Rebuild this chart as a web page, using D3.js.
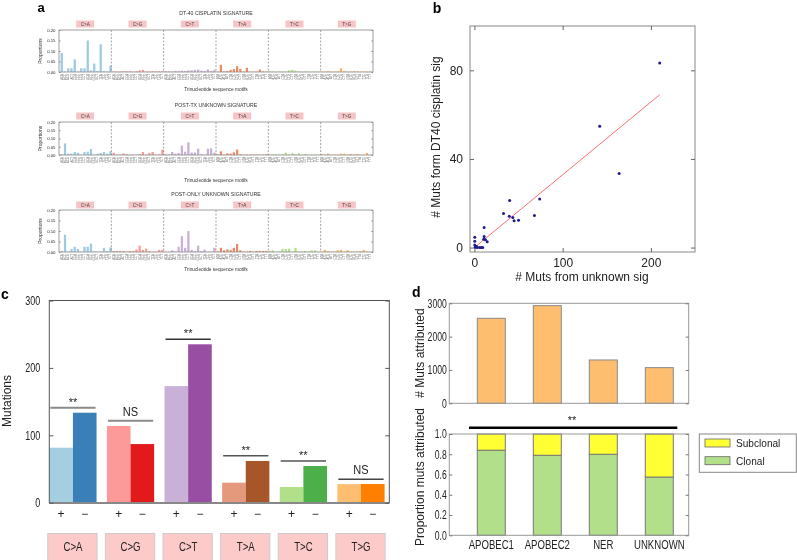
<!DOCTYPE html>
<html><head><meta charset="utf-8">
<script src="https://cdn.jsdelivr.net/npm/d3@7"></script>
<style>body{margin:0;background:#fff}svg{display:block;font-family:"Liberation Sans",Arial,sans-serif;will-change:transform}</style>
</head><body><svg id="c" width="797" height="560"></svg>
<script>
// ---------------- DATA ----------------
const mutTypes = ["C>A","C>G","C>T","T>A","T>C","T>G"];
const flanks = ["AA","AC","AG","AT","CA","CC","CG","CT","GA","GC","GG","GT","TA","TC","TG","TT"];
const sigTitles = ["DT-40 CISPLATIN SIGNATURE","POST-TX UNKNOWN SIGNATURE","POST-ONLY UNKNOWN SIGNATURE"];
const propTicks = [0, 0.05, 0.10, 0.15, 0.20];
const sigDT40 = [
 0.090,0.003,0.018,0.018,0.060,0.003,0.018,0.018,0.150,0.008,0.040,0.005,0.132,0.005,0.003,0.030,
 0.004,0.002,0.002,0.004,0.003,0.004,0.002,0.004,0.008,0.010,0.003,0.002,0.004,0.003,0.003,0.004,
 0.004,0.003,0.002,0.005,0.004,0.006,0.005,0.008,0.008,0.010,0.012,0.006,0.004,0.012,0.005,0.010,
 0.002,0.034,0.003,0.005,0.010,0.014,0.028,0.015,0.002,0.020,0.002,0.002,0.002,0.012,0.003,0.002,
 0.004,0.002,0.002,0.003,0.003,0.002,0.008,0.010,0.006,0.003,0.002,0.003,0.002,0.002,0.003,0.002,
 0.003,0.002,0.004,0.002,0.002,0.003,0.018,0.004,0.002,0.002,0.004,0.003,0.002,0.002,0.002,0.003];
const sigPostTx = [
 0.006,0.070,0.008,0.008,0.018,0.013,0.002,0.018,0.020,0.036,0.002,0.008,0.012,0.018,0.008,0.022,
 0.014,0.003,0.002,0.010,0.005,0.002,0.002,0.002,0.006,0.018,0.004,0.012,0.018,0.002,0.004,0.032,
 0.005,0.004,0.018,0.008,0.012,0.057,0.020,0.077,0.015,0.015,0.038,0.005,0.002,0.038,0.040,0.015,
 0.004,0.022,0.002,0.010,0.008,0.016,0.033,0.004,0.002,0.003,0.002,0.003,0.002,0.002,0.002,0.004,
 0.003,0.003,0.004,0.003,0.004,0.014,0.003,0.010,0.004,0.010,0.003,0.007,0.002,0.002,0.003,0.003,
 0.005,0.002,0.008,0.002,0.002,0.002,0.008,0.008,0.002,0.006,0.002,0.006,0.002,0.002,0.012,0.002];
const sigPostOnly = [
 0.005,0.082,0.002,0.015,0.025,0.015,0.002,0.025,0.025,0.040,0.003,0.002,0.002,0.020,0.005,0.022,
 0.005,0.005,0.005,0.005,0.002,0.005,0.005,0.012,0.030,0.010,0.016,0.005,0.002,0.002,0.010,0.010,
 0.002,0.002,0.008,0.002,0.025,0.075,0.020,0.100,0.010,0.005,0.030,0.005,0.012,0.002,0.002,0.020,
 0.004,0.020,0.008,0.013,0.010,0.020,0.038,0.008,0.002,0.002,0.005,0.002,0.005,0.005,0.005,0.005,
 0.006,0.008,0.002,0.002,0.015,0.014,0.016,0.002,0.020,0.002,0.002,0.005,0.002,0.008,0.008,0.002,
 0.002,0.010,0.004,0.002,0.002,0.008,0.010,0.002,0.009,0.002,0.002,0.002,0.004,0.010,0.002,0.002];

const scatterX = [210,142,164,74,40,33,39.5,43.5,45,50,68,11,11,10.5,12.5,14.5,0.4,0.4,0.4,1.5,3.3,6,7.8,9.4,1,2.6];
const scatterY = [83.3,54.7,33.4,21.9,21.2,15.4,14.1,13.6,12.1,12.3,14.5,9.1,5,3.8,3.5,2.6,4.7,2.9,1.2,0.4,0,0,0,0,0.2,0.5];
const fitX = [0, 210];
const fitY = [0, 69];
const bXTicks = [0,100,200];
const bYTicks = [0,40,80];

const strandLabels = ["+","\u2212"];
const mutPlus  = [81.6,113.8,173,29.7,23.3,27.5];
const mutMinus = [133.5,87,235,61.9,54.4,27.8];
const sigText  = ["**","NS","**","**","**","NS"];
const sigLevel = [141,121.5,242.5,69.7,61.9,34.7];
const cTicks = [0,100,200,300];

const sigNames = ["APOBEC1","APOBEC2","NER","UNKNOWN"];
const mutsAttributed = [2550,2930,1300,1070];
const clonalProp = [0.84,0.79,0.80,0.575];
const subclonalProp = [0.16,0.21,0.20,0.425];
const legendLabels = ["Subclonal","Clonal"];
const dTopTicks = [0,1000,2000,3000];
const dBotTicks = [0,0.2,0.4,0.6,0.8,1.0];

// ---------------- STYLE ----------------
const aColors = ["#9ecae1","#fb9a99","#c9b0d6","#ef8a62","#b2df8a","#fdb462"];
const plusColors = ["#a6cee3","#fb9a99","#c9b0d6","#e4997c","#b2df8a","#fdbf6f"];
const minusColors = ["#3a7fb8","#e31a1c","#984ea3","#a65628","#4daf4a","#ff7f00"];
const sigLineColor = ["#8a8a8a","#8a8a8a","#333","#555","#555","#444"];
const sigLineWidth = [2,2,1.3,1.5,1.5,1.5];
const FONT = '"Liberation Sans", Arial, sans-serif';
const svg = d3.select("#c");

function styleAxis(g, fs, col, sx){
  g.select(".domain").remove();
  g.selectAll(".tick line").attr("stroke", col);
  const t = g.selectAll(".tick text").attr("font-size", fs).attr("fill","#222").attr("font-family",FONT);
  if(sx){
    t.each(function(){
      const el = d3.select(this);
      const x = +el.attr("x") || 0;
      el.attr("x", x/sx).attr("transform", `scale(${sx},1)`);
    });
  }
}
function label(x,y,t,fs,opts={}){
  const sx = opts.sx || 1;
  let tr = `translate(${x},${y})`;
  if(opts.rot) tr += ` rotate(${opts.rot})`;
  if(sx !== 1) tr += ` scale(${sx},1)`;
  return svg.append("text").attr("transform",tr).text(t).attr("font-size",fs)
    .attr("text-anchor",opts.anchor||"middle").attr("fill",opts.fill||"#222")
    .attr("font-weight",opts.weight||"normal");
}

// ---------------- PANEL A ----------------
const sigData = [sigDT40, sigPostTx, sigPostOnly];
const aLayout = [
  {top:30, bottom:72, titleY:15, boxY:24, xlabY:91},
  {top:122,bottom:155,titleY:107,boxY:116,xlabY:182},
  {top:210,bottom:252,titleY:196,boxY:205,xlabY:271}];
const motifs = [];
mutTypes.forEach(t => flanks.forEach(f => motifs.push(f[0]+t[0]+f[1])));
label(41,12,"a",13,{weight:"bold",fill:"#000"});
sigData.forEach((data,i)=>{
  const L = aLayout[i];
  const g = svg.append("g");
  const x0 = 59, x1 = 373;
  const x = d3.scaleBand().domain(d3.range(96)).range([x0,x1]).paddingInner(0.3).paddingOuter(0.5);
  const y = d3.scaleLinear().domain([0,0.2]).range([L.bottom,L.top]);
  g.selectAll("rect.bar").data(data).join("rect")
    .attr("x",(d,j)=>x(j)).attr("y",d=>y(d)).attr("width",x.bandwidth())
    .attr("height",d=>L.bottom-y(d)).attr("fill",(d,j)=>aColors[Math.floor(j/16)]);
  const gw = (x1 - x0)/6;
  for(let k=1;k<6;k++){
    const bx = x0 + k*gw;
    g.append("line").attr("x1",bx).attr("x2",bx).attr("y1",L.top).attr("y2",L.bottom)
      .attr("stroke","#666").attr("stroke-width",0.6).attr("stroke-dasharray","2,1.5");
  }
  mutTypes.forEach((t,k)=>{
    const cx = x0 + (k+0.5)*gw;
    g.append("rect").attr("x",cx-9).attr("y",L.boxY-3.5).attr("width",18).attr("height",7).attr("fill","#f6c4c6");
    g.append("text").attr("x",cx).attr("y",L.boxY+1.6).attr("text-anchor","middle").attr("font-size",4.6).attr("fill","#444").text(t);
  });
  g.append("rect").attr("x",x0).attr("y",L.top).attr("width",x1-x0).attr("height",L.bottom-L.top)
    .attr("fill","none").attr("stroke","#888").attr("stroke-width",0.8);
  const ax = g.append("g").attr("transform",`translate(${x0},0)`)
    .call(d3.axisLeft(y).tickValues(propTicks).tickFormat(d3.format(".2f")).tickSizeInner(-1.5).tickSizeOuter(0).tickPadding(3.5));
  styleAxis(ax,4.3,"#888");
  const axr = g.append("g").attr("transform",`translate(${x1},0)`)
    .call(d3.axisRight(y).tickValues(propTicks).tickFormat("").tickSizeInner(-1.5).tickSizeOuter(0));
  styleAxis(axr,4,"#888");
  g.selectAll("text.motif").data(motifs).join("text")
    .attr("transform",(d,j)=>`translate(${x(j)+x.bandwidth()/2+1},${L.bottom+2}) rotate(-90)`)
    .attr("text-anchor","end").attr("font-size",2.8).attr("fill","#666").text(d=>d);
  label(216,L.titleY,sigTitles[i],5.2,{fill:"#333"});
  label(216,L.xlabY,"Trinucleotide sequence motifs",4.8,{fill:"#333"});
  label(42,(L.top+L.bottom)/2,"Proportions",5,{rot:-90,fill:"#333"});
});

// ---------------- PANEL B ----------------
{
  const x = d3.scaleLinear().domain([-5,250]).range([470,695]);
  const y = d3.scaleLinear().domain([-2,100]).range([252,26]);
  const g = svg.append("g");
  g.append("rect").attr("x",470).attr("y",26).attr("width",225).attr("height",226)
    .attr("fill","none").attr("stroke","#888").attr("stroke-width",1);
  const ax = g.append("g").attr("transform","translate(0,252)")
    .call(d3.axisBottom(x).tickValues(bXTicks).tickSizeInner(-4).tickSizeOuter(0).tickPadding(6));
  styleAxis(ax,12,"#666");
  const axt = g.append("g").attr("transform","translate(0,26)")
    .call(d3.axisTop(x).tickValues(bXTicks).tickFormat("").tickSizeInner(-4).tickSizeOuter(0));
  styleAxis(axt,12,"#666");
  const ay = g.append("g").attr("transform","translate(470,0)")
    .call(d3.axisLeft(y).tickValues(bYTicks).tickSizeInner(-4).tickSizeOuter(0).tickPadding(7));
  styleAxis(ay,12,"#666");
  const ayr = g.append("g").attr("transform","translate(695,0)")
    .call(d3.axisRight(y).tickValues(bYTicks).tickFormat("").tickSizeInner(-4).tickSizeOuter(0));
  styleAxis(ayr,12,"#666");
  g.append("line").attr("x1",x(fitX[0])).attr("y1",y(fitY[0])).attr("x2",x(fitX[1])).attr("y2",y(fitY[1]))
    .attr("stroke","#ff6f6f").attr("stroke-width",1);
  g.selectAll("circle").data(scatterX).join("circle")
    .attr("cx",d=>x(d)).attr("cy",(d,i)=>y(scatterY[i])).attr("r",1.5).attr("fill","#1c1c8c");
  label(437,13,"b",14,{weight:"bold",fill:"#000"});
  label(440,137,"# Muts form DT40 cisplatin sig",12,{rot:-90});
  label(582,281,"# Muts from unknown sig",12);
}

// ---------------- PANEL C ----------------
{
  const x = d3.scaleBand().domain(mutTypes).range([49.3,384.6]).paddingInner(0.18).paddingOuter(0);
  const y = d3.scaleLinear().domain([0,300]).range([502.7,300.5]);
  const bw = x.bandwidth()/2;
  const g = svg.append("g");
  g.selectAll("rect.plus").data(mutPlus).join("rect")
    .attr("x",(d,i)=>x(mutTypes[i])).attr("y",d=>y(d)).attr("width",bw).attr("height",d=>y(0)-y(d))
    .attr("fill",(d,i)=>plusColors[i]);
  g.selectAll("rect.minus").data(mutMinus).join("rect")
    .attr("x",(d,i)=>x(mutTypes[i])+bw).attr("y",d=>y(d)).attr("width",bw).attr("height",d=>y(0)-y(d))
    .attr("fill",(d,i)=>minusColors[i]);
  g.append("rect").attr("x",49.3).attr("y",300.5).attr("width",340).attr("height",202.2)
    .attr("fill","none").attr("stroke","#555").attr("stroke-width",1);
  g.append("line").attr("x1",49.3).attr("x2",389.3).attr("y1",503).attr("y2",503).attr("stroke","#888").attr("stroke-width",2);
  const ay = g.append("g").attr("transform","translate(49.3,0)")
    .call(d3.axisLeft(y).tickValues(cTicks).tickSizeInner(-4).tickSizeOuter(0).tickPadding(9));
  styleAxis(ay,12,"#555",0.75);
  const ayr = g.append("g").attr("transform","translate(389.3,0)")
    .call(d3.axisRight(y).tickValues(cTicks).tickFormat("").tickSizeInner(-4).tickSizeOuter(0));
  styleAxis(ayr,12,"#555");
  mutTypes.forEach((t,i)=>{
    const xs = x(t), ly = y(sigLevel[i]);
    g.append("line").attr("x1",xs+1).attr("x2",xs+2*bw-1).attr("y1",ly).attr("y2",ly)
      .attr("stroke",sigLineColor[i]).attr("stroke-width",sigLineWidth[i]);
    if(sigText[i]==="NS") label(xs+bw,ly-5,"NS",13,{sx:0.85});
    else label(xs+bw,ly-2,"**",11);
    strandLabels.forEach((s,k)=>label(xs+bw*(k+0.5),518,s,12));
    g.append("rect").attr("x",xs-1.5).attr("y",533.5).attr("width",2*bw+2).attr("height",30)
      .attr("fill","#fdcaca").attr("stroke","#ccc").attr("stroke-width",1);
    label(xs+bw,551,t,12,{sx:0.8});
  });
  label(1,299,"c",14,{weight:"bold",fill:"#000",anchor:"start"});
  label(11,401,"Mutations",12,{rot:-90});
}

// ---------------- PANEL D ----------------
{
  const x = d3.scaleBand().domain(sigNames).range([463.3,687.3]).paddingInner(0.5).paddingOuter(0.25);
  const yT = d3.scaleLinear().domain([0,3000]).range([403.3,303.3]);
  const yB = d3.scaleLinear().domain([0,1]).range([535.3,434]);
  const g = svg.append("g");
  g.selectAll("rect.muts").data(mutsAttributed).join("rect")
    .attr("x",(d,i)=>x(sigNames[i])).attr("y",d=>yT(d)).attr("width",x.bandwidth()).attr("height",d=>yT(0)-yT(d))
    .attr("fill","#fdbf6f").attr("stroke","#8a8a8a").attr("stroke-width",1);
  g.append("rect").attr("x",449.3).attr("y",303.3).attr("width",239.4).attr("height",100)
    .attr("fill","none").attr("stroke","#999").attr("stroke-width",1);
  const at = g.append("g").attr("transform","translate(449.3,0)")
    .call(d3.axisLeft(yT).tickValues(dTopTicks).tickFormat(d3.format("d")).tickSizeInner(-3).tickSizeOuter(0).tickPadding(2.5));
  styleAxis(at,12,"#777",0.72);
  const atr = g.append("g").attr("transform","translate(688.7,0)")
    .call(d3.axisRight(yT).tickValues(dTopTicks).tickFormat("").tickSizeInner(-3).tickSizeOuter(0));
  styleAxis(atr,12,"#777");

  g.selectAll("rect.clonal").data(clonalProp).join("rect")
    .attr("x",(d,i)=>x(sigNames[i])).attr("y",d=>yB(d)).attr("width",x.bandwidth()).attr("height",d=>yB(0)-yB(d))
    .attr("fill","#b2df8a").attr("stroke","#777").attr("stroke-width",1);
  g.selectAll("rect.sub").data(subclonalProp).join("rect")
    .attr("x",(d,i)=>x(sigNames[i])).attr("y",d=>yB(1)).attr("width",x.bandwidth()).attr("height",d=>yB(0)-yB(d))
    .attr("fill","#ffff33").attr("stroke","#777").attr("stroke-width",1);
  g.append("rect").attr("x",449.3).attr("y",434).attr("width",239.4).attr("height",101.3)
    .attr("fill","none").attr("stroke","#999").attr("stroke-width",1);
  const ab = g.append("g").attr("transform","translate(449.3,0)")
    .call(d3.axisLeft(yB).tickValues(dBotTicks).tickFormat(d3.format(".1f")).tickSizeInner(-3).tickSizeOuter(0).tickPadding(2.5));
  styleAxis(ab,12,"#777",0.72);
  const abr = g.append("g").attr("transform","translate(688.7,0)")
    .call(d3.axisRight(yB).tickValues(dBotTicks).tickFormat("").tickSizeInner(-3).tickSizeOuter(0));
  styleAxis(abr,12,"#777");
  const ax = g.append("g").attr("transform","translate(0,535.3)")
    .call(d3.axisBottom(x).tickSizeInner(0).tickSizeOuter(0).tickPadding(5));
  styleAxis(ax,12,"#777",0.8);
  g.append("line").attr("x1",469).attr("x2",677.3).attr("y1",427.7).attr("y2",427.7).attr("stroke","#000").attr("stroke-width",2.5);
  label(572,424,"**",11);
  // legend
  g.append("rect").attr("x",699.3).attr("y",434).attr("width",97).attr("height",38.3)
    .attr("fill","#fff").attr("stroke","#888").attr("stroke-width",1);
  const legCols = ["#ffff33","#b2df8a"];
  legendLabels.forEach((t,i)=>{
    g.append("rect").attr("x",705).attr("y",439+i*17.7).attr("width",25).attr("height",8)
      .attr("fill",legCols[i]).attr("stroke","#666").attr("stroke-width",0.8);
    label(736,447+i*17.7,t,11,{anchor:"start",sx:0.92});
  });
  label(412,297,"d",14,{weight:"bold",fill:"#000",anchor:"start"});
  label(424,353,"# Muts attributed",12,{rot:-90});
  label(424,477,"Proportion muts attributed",12,{rot:-90});
}
</script></body></html>
